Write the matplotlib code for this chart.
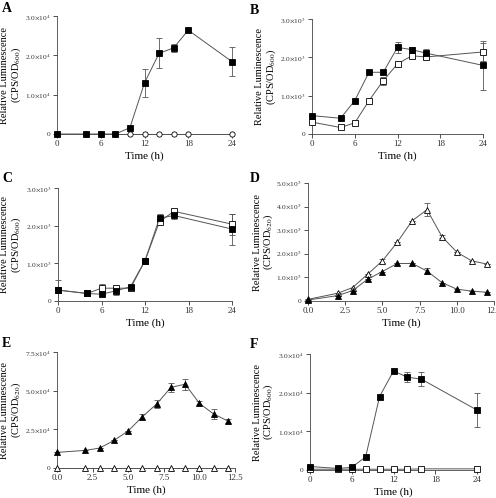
import numpy as np
import matplotlib
matplotlib.use("Agg")
import matplotlib.pyplot as plt

plt.rcParams['font.family'] = ['Liberation Serif', 'DejaVu Serif']
plt.rcParams['mathtext.fontset'] = 'stix'

# Panel A
tA = [0, 4, 6, 8, 10, 12, 14, 16, 18, 24]
A_fill = [0, 0, 0, 0, 1.6e3, 1.30e4, 2.05e4, 2.19e4, 2.64e4, 1.84e4]
A_fill_err = [0, 0, 0, 0, 0, 3.6e3, 3.8e3, 1.1e3, 0.5e3, 3.7e3]
A_open = [0, 0, 0, 0, 0, 0, 0, 0, 0, 0]

# Panel B
tB = [0, 4, 6, 8, 10, 12, 14, 16, 24]
B_fill = [480, 410, 870, 1610, 1610, 2260, 2200, 2110, 1790]
B_fill_err = [0, 0, 0, 0, 0, 150, 60, 100, 640]
B_open = [310, 170, 290, 870, 1390, 1830, 2040, 2010, 2140]
B_open_err = [0, 0, 0, 0, 100, 50, 40, 60, 240]

# Panel C
tC = [0, 4, 6, 8, 10, 12, 14, 16, 24]
C_fill = [290, 200, 180, 270, 380, 1070, 2200, 2270, 1910]
C_fill_err = [280, 80, 0, 100, 0, 0, 100, 100, 410]
C_open = [290, 200, 340, 340, 340, 1070, 2110, 2380, 2040]
C_open_err = [0, 0, 100, 0, 0, 0, 0, 0, 280]

# Panel D
tD = [0, 2, 3, 4, 5, 6, 7, 8, 9, 10, 11, 12]
D_open = [0.07e5, 0.33e5, 0.57e5, 1.13e5, 1.70e5, 2.49e5, 3.40e5, 3.87e5, 2.73e5, 2.07e5, 1.70e5, 1.57e5]
D_open_err = [0, 0, 0, 0, 0.07e5, 0, 0, 0.28e5, 0.08e5, 0, 0, 0]
D_fill = [0.04e5, 0.23e5, 0.44e5, 0.92e5, 1.25e5, 1.59e5, 1.59e5, 1.27e5, 0.78e5, 0.50e5, 0.42e5, 0.37e5]
D_fill_err = [0, 0, 0, 0, 0, 0, 0, 0.12e5, 0, 0, 0, 0]

# Panel E
tE = [0, 2, 3, 4, 5, 6, 7, 8, 9, 10, 11, 12]
E_fill = [1.01e4, 1.14e4, 1.29e4, 1.78e4, 2.40e4, 3.32e4, 4.14e4, 5.21e4, 5.42e4, 4.18e4, 3.49e4, 3.04e4]
E_fill_err = [0, 0, 0, 0, 0, 0.15e4, 0.25e4, 0.28e4, 0.35e4, 0.12e4, 0.3e4, 0.15e4]
E_open = [0] * 12

# Panel F
tF = [0, 4, 6, 8, 10, 12, 14, 16, 24]
F_fill = [0.09e4, 0.04e4, 0.07e4, 0.34e4, 1.90e4, 2.56e4, 2.40e4, 2.35e4, 1.55e4]
F_fill_err = [0, 0, 0, 0, 0, 0, 0.13e4, 0.18e4, 0.45e4]
F_open = [0.02e4, 0.02e4, 0.02e4, 0.02e4, 0.02e4, 0.02e4, 0.02e4, 0.03e4, 0.03e4]

W, H = 496, 498
fig = plt.figure(figsize=(W / 100, H / 100), dpi=100)


def box(l, r, t, b):
    return [l / W, (H - b) / H, (r - l) / W, (b - t) / H]


def sci_labels(ticks, exp):
    labs = []
    for v in ticks:
        if v == 0:
            labs.append('0')
        else:
            labs.append(r'%.1f$\times$10$^{%d}$' % (v / 10 ** exp, exp))
    return labs


def setup(ax, pos, letter, lxy, xlim, xticks, xlabs, ylim, yticks, exp, od, lab_right):
    ax.set_xlim(*xlim)
    ax.set_ylim(*ylim)
    ax.spines['top'].set_visible(False)
    ax.spines['right'].set_visible(False)
    for s in ['left', 'bottom']:
        ax.spines[s].set_linewidth(0.6)
        ax.spines[s].set_color('#444444')
    ax.set_xticks(xticks)
    ax.set_xticklabels(xlabs, fontsize=6.5)
    ax.set_yticks(yticks)
    ax.set_yticklabels(sci_labels(yticks, exp), fontsize=5.3)
    ax.tick_params(direction='out', length=3, width=0.6, pad=1.5, colors='#333333')
    ax.set_xlabel('Time (h)', fontsize=8, labelpad=2)
    ax.set_ylabel('Relative Luminescence\n(CPS/OD$_{%s}$)' % od, fontsize=7.5,
                  linespacing=1.0)
    l, r = pos[0] * W, (pos[0] + pos[2]) * W
    ax.yaxis.set_label_coords((lab_right - l) / (r - l), 0.5)
    fig.text(lxy[0] / W, 1 - lxy[1] / H, letter, fontsize=10, fontweight='bold',
             va='center', ha='left')


def series(ax, t, y, err, marker, filled, ms=3.8):
    fc = 'black' if filled else 'white'
    ax.errorbar(t, y, yerr=err, color='#555555', lw=0.7, elinewidth=0.6, capsize=2,
                capthick=0.6, marker=marker, ms=ms, mfc=fc, mec='black', mew=0.6,
                clip_on=False, zorder=3)


# A
p = box(57, 232, 16, 134)
ax = fig.add_axes(p)
series(ax, tA, A_open, None, 'o', False)
series(ax, tA, A_fill, A_fill_err, 's', True)
setup(ax, p, 'A', (2, 8), (0, 24), [0, 6, 12, 18, 24], ['0', '6', '12', '18', '24'],
      (0, 3e4), [0, 1e4, 2e4, 3e4], 4, '600', 23)

# B
p = box(312, 483, 19, 134)
ax = fig.add_axes(p)
series(ax, tB, B_open, B_open_err, 's', False)
series(ax, tB, B_fill, B_fill_err, 's', True)
setup(ax, p, 'B', (250, 10), (0, 24), [0, 6, 12, 18, 24], ['0', '6', '12', '18', '24'],
      (0, 3e3), [0, 1e3, 2e3, 3e3], 3, '600', 278)

# C
p = box(58, 232, 188, 301)
ax = fig.add_axes(p)
series(ax, tC, C_open, C_open_err, 's', False)
series(ax, tC, C_fill, C_fill_err, 's', True)
setup(ax, p, 'C', (2, 178), (0, 24), [0, 6, 12, 18, 24], ['0', '6', '12', '18', '24'],
      (0, 3e3), [0, 1e3, 2e3, 3e3], 3, '600', 23)

# D
p = box(308, 494, 183, 301)
ax = fig.add_axes(p)
series(ax, tD, D_open, D_open_err, '^', False)
series(ax, tD, D_fill, D_fill_err, '^', True)
setup(ax, p, 'D', (250, 178), (0, 12.5), [0, 2.5, 5, 7.5, 10, 12.5],
      ['0.0', '2.5', '5.0', '7.5', '10.0', '12.5'],
      (0, 5e5), [0, 1e5, 2e5, 3e5, 4e5, 5e5], 5, '620', 275)

# E
p = box(57, 235, 352, 468)
ax = fig.add_axes(p)
series(ax, tE, E_open, None, '^', False)
series(ax, tE, E_fill, E_fill_err, '^', True)
setup(ax, p, 'E', (2, 343), (0, 12.5), [0, 2.5, 5, 7.5, 10, 12.5],
      ['0.0', '2.5', '5.0', '7.5', '10.0', '12.5'],
      (0, 7.5e4), [0, 2.5e4, 5e4, 7.5e4], 4, '620', 23)

# F
p = box(310, 477, 354, 470)
ax = fig.add_axes(p)
series(ax, tF, F_open, None, 's', False)
series(ax, tF, F_fill, F_fill_err, 's', True)
setup(ax, p, 'F', (250, 345), (0, 24), [0, 6, 12, 18, 24], ['0', '6', '12', '18', '24'],
      (0, 3e4), [0, 1e4, 2e4, 3e4], 4, '600', 275)

fig.savefig('out.png', dpi=100)
